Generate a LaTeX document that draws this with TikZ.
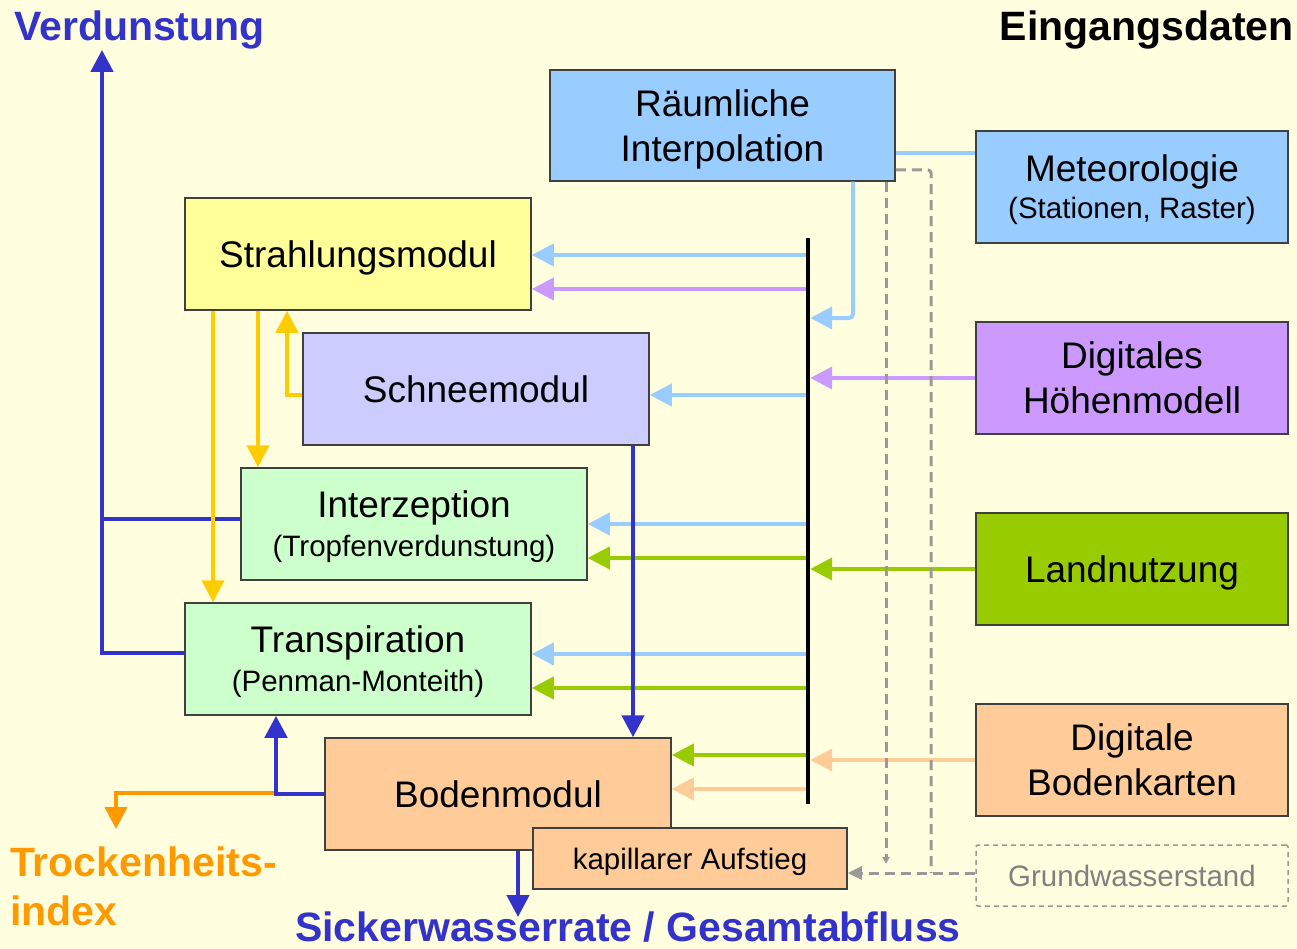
\documentclass[tikz,border=0pt]{standalone}
\usepackage{fontspec}
\setmainfont{Liberation Sans}
\usetikzlibrary{arrows.meta,calc}
\definecolor{bg}{HTML}{FFFFE0}
\definecolor{lblue}{HTML}{99CCFF}
\definecolor{lpurple}{HTML}{CC99FF}
\definecolor{lgreen}{HTML}{99CC00}
\definecolor{peach}{HTML}{FFCC99}
\definecolor{lyellow}{HTML}{FFFF99}
\definecolor{lilac}{HTML}{CCCCFF}
\definecolor{mint}{HTML}{CCFFCC}
\definecolor{gold}{HTML}{FFCC00}
\definecolor{dblue}{HTML}{3333CC}
\definecolor{orng}{HTML}{FF9900}
\definecolor{dgray}{HTML}{999999}
\definecolor{bordergray}{HTML}{404040}
\newcommand\subtxt{\fontsize{29.5}{36}\selectfont}
\newcommand\maintxt{\fontsize{37}{45}\selectfont}
\newcommand\bigbold{\fontsize{41}{49}\selectfont\bfseries}
\begin{document}
\begin{tikzpicture}[x=1pt,y=-1pt,
  box/.style={draw=bordergray, line width=1.5pt, inner sep=0pt, minimum width=346pt,
    minimum height=112pt, font=\maintxt, align=center, text depth=0pt},
  gwbox/.style={draw=dgray, line width=1.5pt, dash pattern=on 5pt off 4pt, rounded corners=2pt,
    inner sep=0pt, minimum width=312pt, minimum height=61pt, font=\subtxt, text=black!50},
  arr/.style={line width=4pt, -{Triangle[length=22pt,width=22pt]}},
  plain/.style={line width=4pt},
  gwline/.style={draw=dgray, line width=3pt, dash pattern=on 10pt off 6pt},
  lbl/.style={inner sep=0pt, font=\bigbold}
]
\fill[bg] (0,0) rectangle (1297,949);
\useasboundingbox (0,0) rectangle (1297,949);

% boxes
\node[box, fill=lblue, minimum width=345pt, minimum height=111pt] (interp) at (722.5,125.5) {Räumliche\\Interpolation};
\node[box, fill=lblue, minimum width=312pt] (meteo) at (1132,187) {Meteorologie\\[-8pt]{\subtxt (Stationen, Raster)}};
\node[box, fill=lpurple, minimum width=312pt] (dhm) at (1132,378) {Digitales\\Höhenmodell};
\node[box, fill=lgreen, minimum width=312pt] (land) at (1132,569) {Landnutzung};
\node[box, fill=peach, minimum width=312pt] (bkarten) at (1132,760) {Digitale\\Bodenkarten};
\node[gwbox] (gw) at (1132,875.5) {Grundwasserstand};
\node[box, fill=lyellow] (strahl) at (358,254) {Strahlungsmodul};
\node[box, fill=lilac] (schnee) at (476,389) {Schneemodul};
\node[box, fill=mint] (interz) at (414,524) {Interzeption\\[-6pt]{\subtxt (Tropfenverdunstung)}};
\node[box, fill=mint] (transp) at (358,659) {Transpiration\\[-6pt]{\subtxt (Penman-Monteith)}};
\node[box, fill=peach] (boden) at (498,794) {Bodenmodul};
\node[box, fill=peach, minimum width=314pt, minimum height=61pt, font=\subtxt] (kap) at (690,858.5) {kapillarer Aufstieg};

% bus
\node[fill=black, inner sep=0pt, minimum width=4pt, minimum height=566pt] (bus) at (808,521) {};

% labels
\node[lbl, anchor=base west, text=dblue] (verd) at (14,41) {Verdunstung};
\node[lbl, anchor=base east] (eing) at (1294,41) {Eingangsdaten};
\node[lbl, anchor=north west, text=orng, align=left] (trock) at (10,847) {Trockenheits-\\index};
\node[lbl, anchor=base west, text=dblue] (sick) at (295,941) {Sickerwasserrate / Gesamtabfluss};

% inputs to bus
\draw[plain, lblue] (meteo.west |- 0,153) -- (interp.east |- 0,153);
\draw[arr, lblue, rounded corners=4pt] (interp.south -| 853,0) -- (853,318) -- (bus.east |- 0,318);
\draw[arr, lpurple] (dhm.west) -- (bus.east |- dhm.west);
\draw[arr, lgreen] (land.west) -- (bus.east |- land.west);
\draw[arr, peach] (bkarten.west) -- (bus.east |- bkarten.west);

% bus outputs
\draw[arr, lblue] (bus.west |- 0,255) -- (strahl.east |- 0,255);
\draw[arr, lpurple] (bus.west |- 0,289) -- (strahl.east |- 0,289);
\draw[arr, lblue] (bus.west |- 0,395) -- (schnee.east |- 0,395);
\draw[arr, lblue] (bus.west |- 0,524) -- (interz.east |- 0,524);
\draw[arr, lgreen] (bus.west |- 0,558) -- (interz.east |- 0,558);
\draw[arr, lblue] (bus.west |- 0,654) -- (transp.east |- 0,654);
\draw[arr, lgreen] (bus.west |- 0,688) -- (transp.east |- 0,688);
\draw[arr, lgreen] (bus.west |- 0,755) -- (boden.east |- 0,755);
\draw[arr, peach] (bus.west |- 0,789) -- (boden.east |- 0,789);

% dashed groundwater
\draw[gwline, -{Triangle[length=7pt,width=7pt]}] (interp.south -| 886,0) -- (886,864);
\draw[gwline, rounded corners=3pt] (interp.east |- 0,170) -- (931,170) -- (931,873);
\draw[gwline, -{Triangle[length=14pt,width=13pt]}] (gw.west |- 0,873) -- (kap.east |- 0,873);

% blue flows
\draw[plain, dblue, line width=4.5pt] (interz.west |- 0,519) -- (102,519);
\draw[arr, dblue, line width=4.5pt] (transp.west |- 0,653) -- (102,653) -- (verd.south -| 102,0);
\draw[arr, dblue, line width=4.5pt] (schnee.south -| 633,0) -- (boden.north -| 633,0);
\draw[arr, orng] (276,793) -- (116,793) -- (116,829);
\draw[arr, dblue, line width=4.5pt] (boden.west |- 0,794) -- (276,794) -- (transp.south -| 276,0);
\draw[arr, dblue, line width=4.5pt] (boden.south -| 518,0) -- (518,917);

% yellow flows
\draw[arr, gold] (strahl.south -| 213,0) -- (transp.north -| 213,0);
\draw[arr, gold] (strahl.south -| 258,0) -- (interz.north -| 258,0);
\draw[arr, gold] (schnee.west |- 0,395) -- (287,395) -- (strahl.south -| 287,0);
\end{tikzpicture}
\end{document}
